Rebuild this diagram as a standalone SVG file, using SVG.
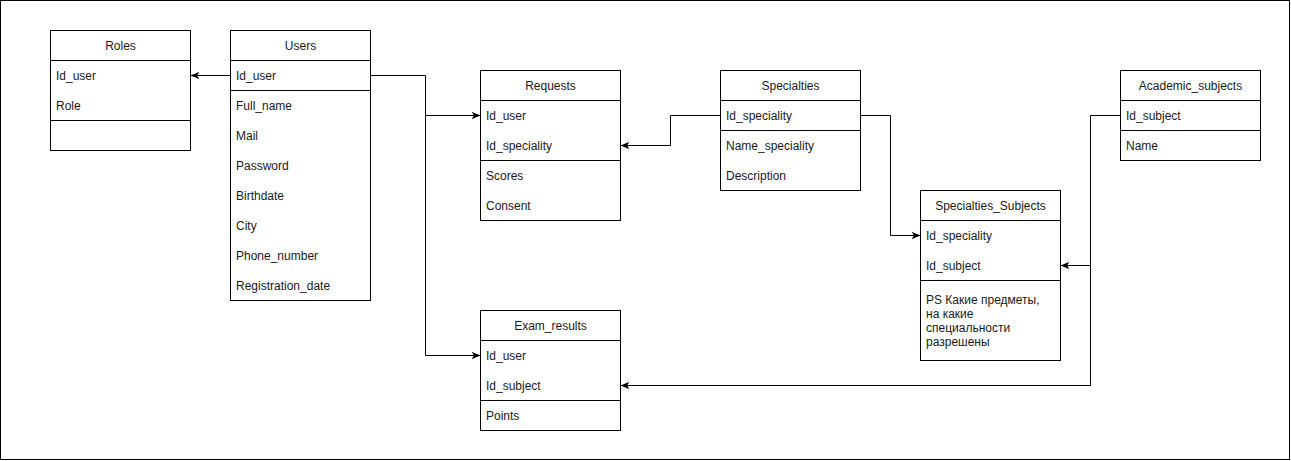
<svg xmlns="http://www.w3.org/2000/svg" width="1291" height="461" viewBox="0 0 1291 461">
<style>
.box{fill:#fff;stroke:#000;stroke-width:1}
.sep{stroke:#000;stroke-width:1;fill:none}
.t{font-family:"Liberation Sans",Arial,sans-serif;font-size:12px;fill:#1a1a1a}
.h{text-anchor:middle}
.c{fill:none;stroke:#000;stroke-width:1}
</style>
<defs>
<marker id="arr" viewBox="0 0 10 8" refX="10" refY="4" markerWidth="9" markerHeight="7" markerUnits="userSpaceOnUse" orient="auto">
<path d="M0,0 L10,4 L0,8 L2.5,4 Z" fill="#000"/>
</marker>
</defs>
<rect x="0.5" y="0.5" width="1289" height="459" fill="#fff" stroke="#000"/>
<g id="connectors">
<path class="c" d="M230.5,75.5 H190.5" marker-end="url(#arr)"/>
<path class="c" d="M370.5,75.5 H425.5 V115.5 H480.5" marker-end="url(#arr)"/>
<path class="c" d="M425.5,115.5 V355.5 H480.5" marker-end="url(#arr)"/>
<path class="c" d="M720.5,115.5 H670.5 V145.5 H620.5" marker-end="url(#arr)"/>
<path class="c" d="M860.5,115.5 H890.5 V235.5 H920.5" marker-end="url(#arr)"/>
<path class="c" d="M1120.5,115.5 H1090.5 V265.5 H1060.5" marker-end="url(#arr)"/>
<path class="c" d="M1090.5,265.5 V385.5 H620.5" marker-end="url(#arr)"/>
</g>
<g id="roles">
<rect class="box" x="50.5" y="30.5" width="140" height="120"/>
<path class="sep" d="M50.5,60.5 H190.5 M50.5,120.5 H190.5"/>
<text class="t h" x="120.5" y="49.5">Roles</text>
<text class="t" x="56" y="79.5">Id_user</text>
<text class="t" x="56" y="109.5">Role</text>
</g>
<g id="users">
<rect class="box" x="230.5" y="30.5" width="140" height="270"/>
<path class="sep" d="M230.5,60.5 H370.5 M230.5,90.5 H370.5"/>
<text class="t h" x="300.5" y="49.5">Users</text>
<text class="t" x="236" y="79.5">Id_user</text>
<text class="t" x="236" y="109.5">Full_name</text>
<text class="t" x="236" y="139.5">Mail</text>
<text class="t" x="236" y="169.5">Password</text>
<text class="t" x="236" y="199.5">Birthdate</text>
<text class="t" x="236" y="229.5">City</text>
<text class="t" x="236" y="259.5">Phone_number</text>
<text class="t" x="236" y="289.5">Registration_date</text>
</g>
<g id="requests">
<rect class="box" x="480.5" y="70.5" width="140" height="150"/>
<path class="sep" d="M480.5,100.5 H620.5 M480.5,160.5 H620.5"/>
<text class="t h" x="550.5" y="89.5">Requests</text>
<text class="t" x="486" y="119.5">Id_user</text>
<text class="t" x="486" y="149.5">Id_speciality</text>
<text class="t" x="486" y="179.5">Scores</text>
<text class="t" x="486" y="209.5">Consent</text>
</g>
<g id="specialties">
<rect class="box" x="720.5" y="70.5" width="140" height="120"/>
<path class="sep" d="M720.5,100.5 H860.5 M720.5,130.5 H860.5"/>
<text class="t h" x="790.5" y="89.5">Specialties</text>
<text class="t" x="726" y="119.5">Id_speciality</text>
<text class="t" x="726" y="149.5">Name_speciality</text>
<text class="t" x="726" y="179.5">Description</text>
</g>
<g id="academic_subjects">
<rect class="box" x="1120.5" y="70.5" width="140" height="90"/>
<path class="sep" d="M1120.5,100.5 H1260.5 M1120.5,130.5 H1260.5"/>
<text class="t h" x="1190.5" y="89.5">Academic_subjects</text>
<text class="t" x="1126" y="119.5">Id_subject</text>
<text class="t" x="1126" y="149.5">Name</text>
</g>
<g id="specialties_subjects">
<rect class="box" x="920.5" y="190.5" width="140" height="170"/>
<path class="sep" d="M920.5,220.5 H1060.5 M920.5,280.5 H1060.5"/>
<text class="t h" x="990.5" y="209.5">Specialties_Subjects</text>
<text class="t" x="926" y="239.5">Id_speciality</text>
<text class="t" x="926" y="269.5">Id_subject</text>
<text class="t" x="926" y="304">PS Какие предметы,</text>
<text class="t" x="926" y="318">на какие</text>
<text class="t" x="926" y="332">специальности</text>
<text class="t" x="926" y="346">разрешены</text>
</g>
<g id="exam_results">
<rect class="box" x="480.5" y="310.5" width="140" height="120"/>
<path class="sep" d="M480.5,340.5 H620.5 M480.5,400.5 H620.5"/>
<text class="t h" x="550.5" y="329.5">Exam_results</text>
<text class="t" x="486" y="359.5">Id_user</text>
<text class="t" x="486" y="389.5">Id_subject</text>
<text class="t" x="486" y="419.5">Points</text>
</g>
</svg>
